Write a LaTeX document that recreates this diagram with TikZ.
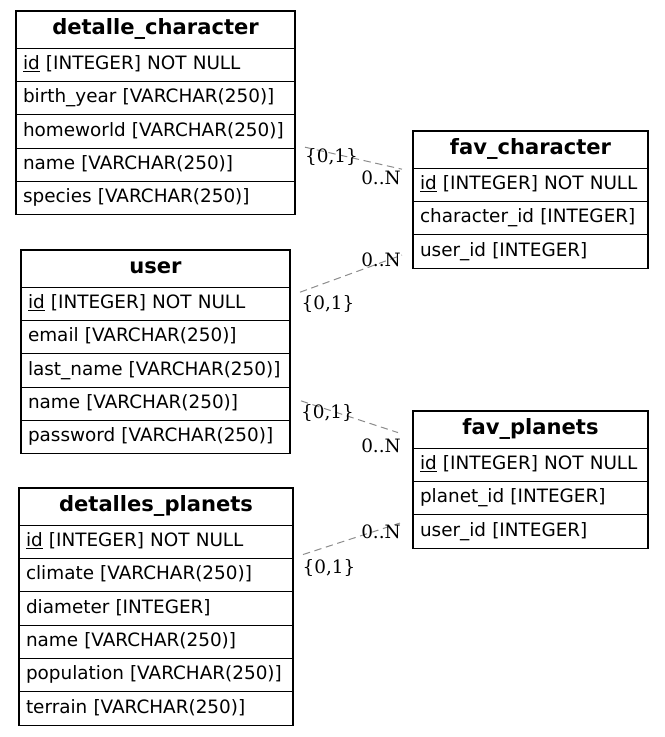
\documentclass[tikz,border=0pt]{standalone}
\usepackage{fontspec}
\setmainfont{DejaVu Sans}
\newfontfamily\lblfont{DejaVu Serif}
\usetikzlibrary{calc}
\definecolor{edgegray}{HTML}{8C8C8C}
\tikzset{
  tbl/.style={draw=black, line width=0.9pt, inner ysep=0pt, outer sep=0pt, anchor=north west},
  hdr/.style={tbl, minimum width=#1, minimum height=27.9pt, inner xsep=0pt,
    font=\fontsize{15.8}{18}\selectfont\bfseries, text height=11.5pt, text depth=3.5pt},
  row/.style={tbl, text width=#1, minimum height=25pt, inner xsep=5.25pt, align=left,
    font=\fontsize{13.8}{16}\selectfont, text height=10pt, text depth=3.2pt},
  rel/.style={draw=edgegray, line width=0.75pt, dash pattern=on 5.5pt off 3.5pt},
  card/.style={font=\lblfont\fontsize{13.8}{16}\selectfont, inner sep=0pt, anchor=base},
}
\begin{document}
\begin{tikzpicture}[x=0.75pt, y=-0.75pt]
\useasboundingbox (0,0) rectangle (664,737);

% detalle_character
\node[hdr=209.25pt] (dc) at (16,11) {detalle\_character};
\node[row=198.75pt] (dc1) at (dc.south west) {\underline{id} [INTEGER] NOT NULL};
\node[row=198.75pt] (dc2) at (dc1.south west) {birth\_year [VARCHAR(250)]};
\node[row=198.75pt] (dc3) at (dc2.south west) {homeworld [VARCHAR(250)]};
\node[row=198.75pt] (dc4) at (dc3.south west) {name [VARCHAR(250)]};
\node[row=198.75pt] (dc5) at (dc4.south west) {species [VARCHAR(250)]};

% fav_character
\node[hdr=176.25pt] (fc) at (413,131) {fav\_character};
\node[row=165.75pt] (fc1) at (fc.south west) {\underline{id} [INTEGER] NOT NULL};
\node[row=165.75pt] (fc2) at (fc1.south west) {character\_id [INTEGER]};
\node[row=165.75pt] (fc3) at (fc2.south west) {user\_id [INTEGER]};

% user
\node[hdr=201.75pt] (us) at (21,250) {user};
\node[row=191.25pt] (us1) at (us.south west) {\underline{id} [INTEGER] NOT NULL};
\node[row=191.25pt] (us2) at (us1.south west) {email [VARCHAR(250)]};
\node[row=191.25pt] (us3) at (us2.south west) {last\_name [VARCHAR(250)]};
\node[row=191.25pt] (us4) at (us3.south west) {name [VARCHAR(250)]};
\node[row=191.25pt] (us5) at (us4.south west) {password [VARCHAR(250)]};

% fav_planets
\node[hdr=176.25pt] (fp) at (413,411) {fav\_planets};
\node[row=165.75pt] (fp1) at (fp.south west) {\underline{id} [INTEGER] NOT NULL};
\node[row=165.75pt] (fp2) at (fp1.south west) {planet\_id [INTEGER]};
\node[row=165.75pt] (fp3) at (fp2.south west) {user\_id [INTEGER]};

% detalles_planets
\node[hdr=205.5pt] (dp) at (19,488) {detalles\_planets};
\node[row=195pt] (dp1) at (dp.south west) {\underline{id} [INTEGER] NOT NULL};
\node[row=195pt] (dp2) at (dp1.south west) {climate [VARCHAR(250)]};
\node[row=195pt] (dp3) at (dp2.south west) {diameter [INTEGER]};
\node[row=195pt] (dp4) at (dp3.south west) {name [VARCHAR(250)]};
\node[row=195pt] (dp5) at (dp4.south west) {population [VARCHAR(250)]};
\node[row=195pt] (dp6) at (dp5.south west) {terrain [VARCHAR(250)]};

% relationships
\draw[rel] ($(dc3.south east)+(10,-1)$) -- ($(fc.south west)+(-11,1)$);
\draw[rel] ($(us.south east)+(10,5)$) -- ($(fc3.west)+(-11,3.5)$);
\draw[rel] ($(us4.east)+(11,-3)$) -- ($(fp.west)+(-15,3)$);
\draw[rel] ($(dp1.south east)+(10,-4)$) -- ($(fp3.west)+(-13,-8.5)$);

% cardinalities
\node[card] (l1a) at (331.5,163) {\{0,1\}};
\node[card] (l1b) at (381,185) {0..N};
\node[card] (l2a) at (381,267) {0..N};
\node[card] (l2b) at (328,310) {\{0,1\}};
\node[card] (l3a) at (327.5,418) {\{0,1\}};
\node[card] (l3b) at (381,452) {0..N};
\node[card] (l4a) at (381,538) {0..N};
\node[card] (l4b) at (329,573) {\{0,1\}};
\end{tikzpicture}
\end{document}
